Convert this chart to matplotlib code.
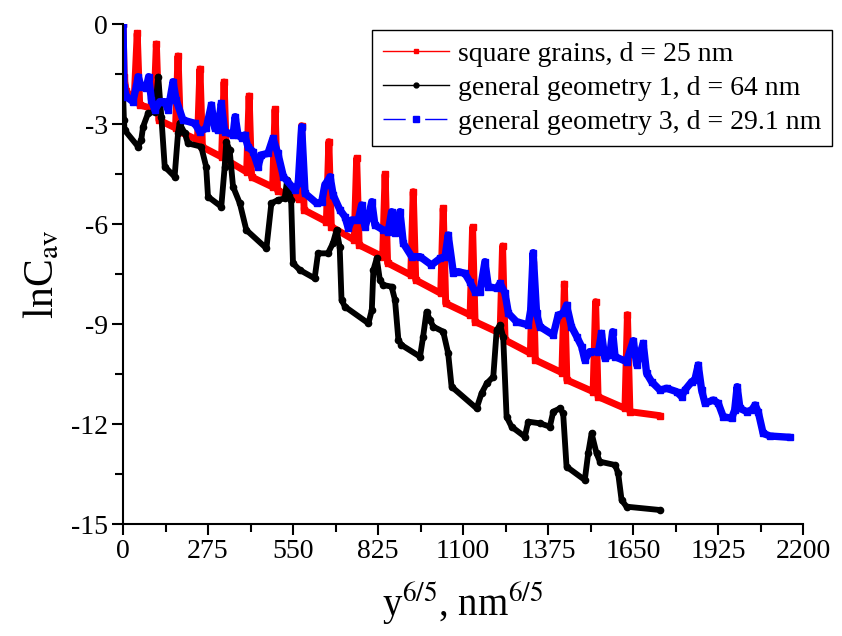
import matplotlib
matplotlib.use('Agg')
import matplotlib.pyplot as plt
from matplotlib.lines import Line2D
from matplotlib.ticker import MultipleLocator

plt.rcParams['font.family'] = ['Liberation Serif', 'DejaVu Serif']
plt.rcParams['mathtext.fontset'] = 'stix'
plt.rcParams['axes.unicode_minus'] = False

# square grains, d = 25 nm
red_x = [0, 4, 10, 36, 46, 54, 100, 108, 116, 170, 178, 186, 241, 249, 257, 319, 327, 335,
         400, 408, 416, 484, 492, 500, 570, 578, 586, 658, 666, 674, 748, 756, 764, 840, 848,
         856, 931, 939, 947, 1028, 1036, 1044, 1123, 1131, 1139, 1220, 1228, 1236, 1318, 1326,
         1334, 1420, 1428, 1436, 1521, 1529, 1537, 1624, 1632, 1640, 1737]
red_y = [0.0, -1.6, -2.0, -2.3, -0.28, -2.43, -2.55, -0.6, -2.88, -3.12, -0.96, -3.24, -3.48,
         -1.35, -3.69, -3.99, -1.74, -4.08, -4.44, -2.16, -4.59, -4.89, -2.56, -5.0, -5.25,
         -3.05, -5.58, -5.93, -3.53, -6.08, -6.48, -4.03, -6.63, -6.98, -4.51, -7.17, -7.53,
         -5.03, -7.68, -8.08, -5.53, -8.38, -8.73, -6.1, -8.93, -9.28, -6.66, -9.48, -9.88,
         -7.2, -10.08, -10.46, -7.8, -10.68, -11.03, -8.33, -11.18, -11.53, -8.72, -11.63, -11.75]

# general geometry 1, d = 64 nm
black_x = [0, 3, 5, 49, 59, 65, 81, 103, 114, 124, 135, 167, 178, 183, 200, 210, 253, 269, 275,
           318, 329, 334, 345, 356, 378, 399, 464, 480, 501, 523, 531, 544, 550, 572, 620, 631,
           663, 679, 691, 701, 707, 718, 794, 805, 810, 821, 831, 842, 869, 880, 891, 901, 961,
           971, 982, 993, 1004, 1036, 1052, 1063, 1144, 1160, 1177, 1198, 1209, 1220, 1230,
           1241, 1257, 1300, 1311, 1349, 1381, 1392, 1414, 1424, 1435, 1494, 1505, 1516, 1532,
           1543, 1592, 1602, 1613, 1629, 1737]
black_y = [-2.0, -2.88, -3.18, -3.68, -3.48, -3.08, -2.68, -2.63, -1.58, -2.78, -4.28, -4.58,
           -3.28, -2.98, -3.28, -3.58, -3.68, -4.28, -5.18, -5.48, -4.28, -3.53, -3.78, -4.88,
           -5.38, -6.18, -6.73, -5.38, -5.28, -5.23, -4.68, -5.28, -7.18, -7.38, -7.63, -6.88,
           -6.88, -6.58, -6.18, -6.68, -8.28, -8.48, -8.98, -8.58, -7.38, -7.03, -7.68, -7.83,
           -7.88, -8.28, -9.48, -9.63, -9.98, -9.38, -8.63, -8.88, -9.08, -9.23, -9.88, -10.88,
           -11.53, -11.08, -10.78, -10.58, -9.18, -9.03, -9.38, -11.78, -12.08, -12.38, -11.93,
           -11.98, -12.08, -11.63, -11.53, -11.68, -13.28, -13.68, -12.88, -12.28, -12.88,
           -13.13, -13.23, -13.48, -14.28, -14.48, -14.58]

# general geometry 3, d = 29.1 nm
blue_x = [0, 3, 11, 32, 43, 49, 59, 75, 83, 92, 103, 119, 135, 146, 162, 172, 194, 232, 248,
          269, 286, 297, 307, 318, 329, 356, 363, 372, 385, 394, 404, 421, 437, 447, 469, 485,
          501, 519, 556, 567, 578, 589, 627, 643, 653, 670, 680, 702, 718, 729, 740, 761, 772,
          783, 794, 805, 815, 842, 858, 869, 880, 896, 907, 934, 961, 998, 1026, 1042, 1052,
          1069, 1085, 1106, 1122, 1139, 1155, 1171, 1182, 1209, 1220, 1236, 1247, 1273, 1311,
          1319, 1327, 1338, 1349, 1392, 1408, 1424, 1435, 1451, 1468, 1484, 1494, 1510, 1538,
          1548, 1559, 1575, 1584, 1592, 1629, 1651, 1662, 1683, 1694, 1710, 1737, 1759, 1791,
          1807, 1818, 1840, 1850, 1861, 1872, 1883, 1910, 1926, 1942, 1969, 1979, 1987, 1996,
          2018, 2034, 2045, 2055, 2071, 2093, 2158]
blue_y = [0.0, -1.88, -2.18, -2.33, -1.88, -1.58, -1.88, -1.93, -1.58, -2.28, -2.58, -2.33,
          -2.33, -2.58, -1.73, -2.28, -2.88, -2.98, -3.23, -3.13, -2.43, -3.13, -3.18, -2.38,
          -3.23, -3.33, -2.78, -3.33, -3.43, -3.33, -3.68, -3.83, -4.28, -3.93, -3.88, -3.43,
          -3.88, -4.58, -4.98, -4.78, -3.08, -5.08, -5.38, -5.33, -4.83, -4.58, -5.13, -5.58,
          -5.78, -6.13, -5.88, -5.88, -5.43, -6.08, -5.78, -5.33, -6.03, -6.18, -6.23, -5.63,
          -6.28, -5.63, -6.58, -6.98, -6.98, -7.23, -7.03, -6.98, -6.33, -7.48, -7.43, -7.48,
          -7.73, -8.03, -8.03, -7.13, -7.88, -7.93, -7.78, -8.08, -8.68, -8.93, -9.03, -8.58,
          -6.86, -8.68, -9.08, -9.33, -8.73, -8.68, -8.43, -9.08, -9.38, -9.68, -10.08, -9.83,
          -9.83, -9.28, -10.03, -9.93, -9.23, -9.98, -10.13, -9.5, -10.23, -9.58, -10.48,
          -10.73, -10.98, -10.93, -11.03, -11.18, -10.98, -10.73, -10.68, -10.23, -10.98,
          -11.38, -11.28, -11.38, -11.78, -11.83, -11.58, -10.88, -11.53, -11.63, -11.58,
          -11.43, -11.63, -12.28, -12.36, -12.40]

labels = ['square grains, d = 25 nm', 'general geometry 1, d = 64 nm',
          'general geometry 3, d = 29.1 nm']

fig = plt.figure(figsize=(8.42, 6.36), dpi=100)
ax = fig.add_axes([123/842, 1 - 524/636, 680/842, 500/636])

ax.plot(red_x, red_y, color='#ff0000', lw=5.0, marker='s', ms=5,
        solid_joinstyle='round', solid_capstyle='round')
ax.plot(black_x, black_y, color='black', lw=4.2, marker='o', ms=4.5,
        solid_joinstyle='round', solid_capstyle='round')
ax.plot(blue_x, blue_y, color='#0000ff', lw=5.3, marker='s', ms=5,
        solid_joinstyle='round', solid_capstyle='round')

ax.set_xlim(0, 2200)
ax.set_ylim(-15, 0)
ax.xaxis.set_major_locator(MultipleLocator(275))
ax.xaxis.set_minor_locator(MultipleLocator(137.5))
ax.yaxis.set_major_locator(MultipleLocator(3))
ax.yaxis.set_minor_locator(MultipleLocator(1.5))
ax.spines['top'].set_visible(False)
ax.spines['right'].set_visible(False)
for s in ['left', 'bottom']:
    ax.spines[s].set_linewidth(1.5)
ax.tick_params(which='major', direction='out', length=8, width=1.5, labelsize=20, pad=3)
ax.tick_params(which='minor', direction='out', length=6, width=1.5)

ax.set_xlabel(r'y$^{6/5}$, nm$^{6/5}$', fontsize=28, labelpad=12)
ax.set_ylabel(r'lnC$_{\rm av}$', fontsize=30, labelpad=6)

handles = [
    Line2D([], [], color='#ff0000', lw=1, marker='s', ms=3.5),
    Line2D([], [], color='black', lw=1, marker='o', ms=3.5),
    Line2D([], [], color='#0000ff', lw=1, marker='s', ms=4.5, linestyle=(0, (16, 14))),
]
leg = ax.legend(handles, labels, loc='upper right', bbox_to_anchor=(1.043, 0.988),
                borderaxespad=0, fontsize=20, handlelength=2.4, handletextpad=0.3,
                labelspacing=0.32, borderpad=0.4, fancybox=False, framealpha=1,
                edgecolor='black')
leg.get_frame().set_linewidth(1.0)

fig.savefig('out.png', dpi=100)
